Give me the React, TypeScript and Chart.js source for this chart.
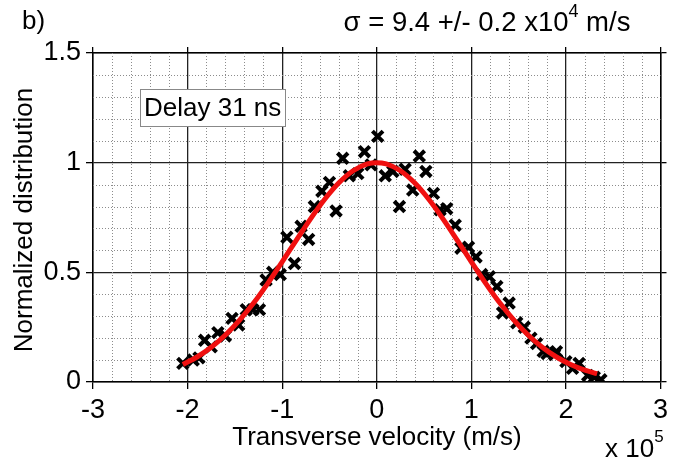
import React, { useEffect, useRef } from "react";
import { Chart, registerables } from "chart.js";

Chart.register(...registerables);

// Measured points (x in units of 1e5 m/s, normalized distribution)
const pointX = [
  -2.05, -1.94, -1.88, -1.82, -1.75, -1.68, -1.6, -1.53, -1.46, -1.38, -1.31, -1.24,
  -1.17, -1.1, -1.02, -0.95, -0.87, -0.8, -0.72, -0.66, -0.58, -0.5, -0.43, -0.36,
  -0.29, -0.2, -0.13, -0.06, 0.01, 0.09, 0.17, 0.24, 0.3, 0.38, 0.45, 0.52, 0.6,
  0.67, 0.74, 0.83, 0.89, 0.97, 1.05, 1.11, 1.19, 1.27, 1.33, 1.4, 1.48, 1.56, 1.63,
  1.69, 1.76, 1.8, 1.88, 1.9, 2.0, 2.07, 2.14, 2.23, 2.3, 2.37,
];
const pointY = [
  0.085, 0.1, 0.11, 0.19, 0.16, 0.225, 0.21, 0.29, 0.26, 0.33, 0.33, 0.33,
  0.465, 0.5, 0.49, 0.66, 0.54, 0.71, 0.65, 0.8, 0.87, 0.91, 0.78, 1.02,
  0.94, 0.95, 1.05, 0.99, 1.12, 0.94, 0.96, 0.8, 0.97, 0.875, 1.03, 0.96, 0.86,
  0.785, 0.79, 0.715, 0.61, 0.615, 0.57, 0.49, 0.48, 0.435, 0.315, 0.36, 0.27, 0.25, 0.2,
  0.175, 0.14, 0.13, 0.125, 0.138, 0.093, 0.062, 0.085, 0.03, 0.022, 0.01,
];

// Fitted curve
const fitX = [
  -2.05, -1.9, -1.75, -1.6, -1.45, -1.3, -1.15, -1.0, -0.85, -0.7, -0.55, -0.4, -0.25, -0.1,
  0, 0.1, 0.25, 0.4, 0.55, 0.7, 0.85, 1.0, 1.15, 1.3, 1.45, 1.6, 1.75, 1.9, 2.05, 2.2, 2.33,
];
const fitY = [
  0.08, 0.114, 0.158, 0.214, 0.282, 0.361, 0.451, 0.548, 0.647, 0.744, 0.833, 0.908, 0.963, 0.994,
  1.0, 0.994, 0.963, 0.908, 0.833, 0.744, 0.647, 0.548, 0.451, 0.361, 0.282, 0.214, 0.158, 0.114, 0.08, 0.054, 0.038,
];

const xTicks = [-3, -2, -1, 0, 1, 2, 3];
const yTicks = [0, 0.5, 1, 1.5];
const yTickLabels = ["0", "0.5", "1", "1.5"];
const xMinorStep = 0.2;
const yMinorStep = 0.1;

const FONT = "'Liberation Sans', Arial, sans-serif";

const minorGridPlugin = {
  id: "minorGrid",
  beforeDatasetsDraw(chart: any) {
    const ctx = chart.ctx as CanvasRenderingContext2D;
    const xs = chart.scales.x;
    const ys = chart.scales.y;
    const a = chart.chartArea;
    ctx.save();
    ctx.strokeStyle = "#8c8c8c";
    ctx.lineWidth = 1;
    ctx.setLineDash([1, 2]);
    const nx = Math.round((xs.max - xs.min) / xMinorStep);
    for (let i = 1; i < nx; i++) {
      if (i % 5 === 0) continue;
      const v = xs.min + i * xMinorStep;
      const px = Math.round(xs.getPixelForValue(v)) + 0.5;
      ctx.beginPath();
      ctx.moveTo(px, a.top);
      ctx.lineTo(px, a.bottom);
      ctx.stroke();
    }
    const ny = Math.round((ys.max - ys.min) / yMinorStep);
    for (let i = 1; i < ny; i++) {
      if (i % 5 === 0) continue;
      const v = ys.min + i * yMinorStep;
      const py = Math.round(ys.getPixelForValue(v)) + 0.5;
      ctx.beginPath();
      ctx.moveTo(a.left, py);
      ctx.lineTo(a.right, py);
      ctx.stroke();
    }
    ctx.restore();
  },
};

const textPlugin = {
  id: "texts",
  afterDraw(chart: any) {
    const ctx = chart.ctx as CanvasRenderingContext2D;
    const xs = chart.scales.x;
    const ys = chart.scales.y;
    ctx.save();
    ctx.fillStyle = "#000";
    ctx.textBaseline = "middle";

    // b)
    ctx.font = `26px ${FONT}`;
    ctx.textAlign = "left";
    ctx.fillText("b)", 22, 22);

    // sigma text
    const main1 = "\u03c3 = 9.4 +/- 0.2 x10";
    const sup = "4";
    const main2 = " m/s";
    ctx.font = `27.5px ${FONT}`;
    const w1 = ctx.measureText(main1).width;
    const w3 = ctx.measureText(main2).width;
    ctx.font = `18px ${FONT}`;
    const w2 = ctx.measureText(sup).width;
    const total = w1 + w2 + w3;
    const sx = 487 - total / 2;
    ctx.font = `27.5px ${FONT}`;
    ctx.fillText(main1, sx, 23);
    ctx.font = `18px ${FONT}`;
    ctx.fillText(sup, sx + w1, 12);
    ctx.font = `27.5px ${FONT}`;
    ctx.fillText(main2, sx + w1 + w2, 23);

    // Delay box
    const bx1 = xs.getPixelForValue(-2.5);
    const bx2 = xs.getPixelForValue(-0.97);
    const by1 = ys.getPixelForValue(1.335);
    const by2 = ys.getPixelForValue(1.167);
    ctx.fillStyle = "#fff";
    ctx.fillRect(bx1, by1, bx2 - bx1, by2 - by1);
    ctx.strokeStyle = "#888";
    ctx.lineWidth = 1;
    ctx.strokeRect(Math.round(bx1) + 0.5, Math.round(by1) + 0.5, Math.round(bx2 - bx1), Math.round(by2 - by1));
    ctx.fillStyle = "#000";
    ctx.font = `26px ${FONT}`;
    ctx.textAlign = "center";
    ctx.fillText("Delay 31 ns", (bx1 + bx2) / 2, (by1 + by2) / 2 + 1);

    // x axis title
    ctx.font = `26px ${FONT}`;
    ctx.textAlign = "center";
    ctx.fillText("Transverse velocity (m/s)", 377, 438);

    // x 10^5
    ctx.textAlign = "left";
    ctx.font = `26px ${FONT}`;
    const xw = ctx.measureText("x 10").width;
    ctx.fillText("x 10", 605, 450);
    ctx.font = `17px ${FONT}`;
    ctx.fillText("5", 605 + xw, 437);

    // y axis title
    ctx.save();
    ctx.translate(25, 220);
    ctx.rotate(-Math.PI / 2);
    ctx.font = `26px ${FONT}`;
    ctx.textAlign = "center";
    ctx.fillText("Normalized distribution", 0, 0);
    ctx.restore();

    ctx.restore();
  },
};

export default function App() {
  const canvasRef = useRef<HTMLCanvasElement | null>(null);

  useEffect(() => {
    document.body.style.margin = "0";
    const canvas = canvasRef.current;
    if (!canvas) return;

    const scatterData = pointX.map((x, i) => ({ x, y: pointY[i] }));
    const fitData = fitX.map((x, i) => ({ x, y: fitY[i] }));

    const chart = new Chart(canvas, {
      type: "scatter",
      data: {
        datasets: [
          {
            label: "fit",
            data: fitData,
            showLine: true,
            borderColor: "#f01010",
            borderWidth: 5,
            pointRadius: 0,
            cubicInterpolationMode: "monotone",
            fill: false,
          },
          {
            label: "data",
            data: scatterData,
            pointStyle: "crossRot",
            pointRadius: 7.5,
            borderColor: "#000",
            backgroundColor: "#000",
            borderWidth: 4,
            showLine: false,
          },
        ],
      },
      options: {
        animation: false,
        responsive: false,
        devicePixelRatio: 1,
        layout: { padding: { top: 53, right: 12, left: 0, bottom: 0 } },
        plugins: {
          legend: { display: false },
          tooltip: { enabled: false },
          title: { display: false },
        },
        scales: {
          x: {
            type: "linear",
            position: "bottom",
            min: -3,
            max: 3,
            afterBuildTicks: (s: any) => {
              s.ticks = xTicks.map((v) => ({ value: v }));
            },
            afterFit: (s: any) => {
              s.height = 79;
            },
            ticks: {
              color: "#000",
              font: { family: FONT, size: 27 },
              padding: 5,
              maxRotation: 0,
              callback: (v: any) => String(v),
            },
            grid: {
              color: "#222",
              lineWidth: 1.3,
              tickLength: 7,
              tickColor: "#000",
              z: -1,
            },
            border: { display: true, color: "#000", width: 1.5 },
          },
          xTop: {
            type: "linear",
            position: "top",
            min: -3,
            max: 3,
            afterBuildTicks: (s: any) => {
              s.ticks = xTicks.map((v) => ({ value: v }));
            },
            ticks: { display: false },
            afterFit: (s: any) => {
              s.height = 0;
            },
            grid: {
              drawOnChartArea: false,
              drawTicks: true,
              tickLength: 6,
              tickColor: "#000",
              lineWidth: 1.3,
            },
            border: { display: true, color: "#000", width: 1.5 },
          },
          y: {
            type: "linear",
            position: "left",
            min: 0,
            max: 1.5,
            afterBuildTicks: (s: any) => {
              s.ticks = yTicks.map((v) => ({ value: v }));
            },
            afterFit: (s: any) => {
              s.width = 93;
            },
            ticks: {
              color: "#000",
              font: { family: FONT, size: 27 },
              padding: 5,
              callback: (v: any) => {
                const i = yTicks.indexOf(Number(v));
                return i >= 0 ? yTickLabels[i] : "";
              },
            },
            grid: {
              color: "#222",
              lineWidth: 1.3,
              tickLength: 7,
              tickColor: "#000",
              z: -1,
            },
            border: { display: true, color: "#000", width: 1.5 },
          },
          yRight: {
            type: "linear",
            position: "right",
            min: 0,
            max: 1.5,
            afterBuildTicks: (s: any) => {
              s.ticks = yTicks.map((v) => ({ value: v }));
            },
            ticks: { display: false },
            afterFit: (s: any) => {
              s.width = 0;
            },
            grid: {
              drawOnChartArea: false,
              drawTicks: true,
              tickLength: 6,
              tickColor: "#000",
              lineWidth: 1.3,
            },
            border: { display: true, color: "#000", width: 1.5 },
          },
        },
      } as any,
      plugins: [minorGridPlugin, textPlugin],
    });

    return () => {
      chart.destroy();
    };
  }, []);

  return (
    <div style={{ position: "absolute", left: 0, top: 0, width: 673, height: 461, background: "#fff" }}>
      <canvas ref={canvasRef} width={673} height={461} style={{ display: "block" }} />
    </div>
  );
}
